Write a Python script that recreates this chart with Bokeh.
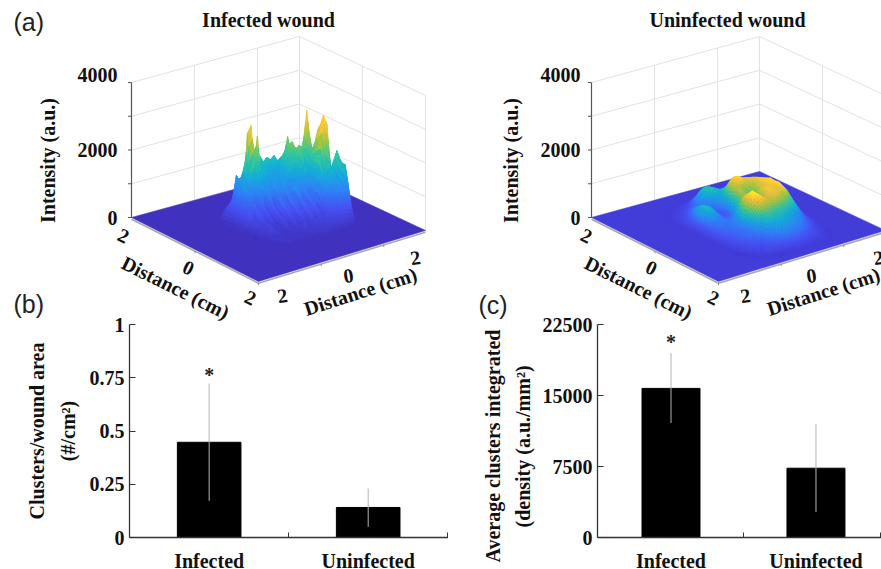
import math
import numpy as np
from bokeh.embed import file_html
from bokeh.resources import INLINE
from bokeh.plotting import figure
from bokeh.layouts import column, row
from bokeh.models import Range1d, FixedTicker, Title
from bokeh.core.properties import value

# ---------- DATA ----------
categories = ["Infected", "Uninfected"]
clusters_area = [0.447, 0.141]
clusters_area_low = [0.172, 0.05]
clusters_area_high = [0.723, 0.23]
clusters_density = [15750, 7320]
clusters_density_low = [12090, 2680]
clusters_density_high = [19470, 12020]
area_ticks = [0, 0.25, 0.5, 0.75, 1]
area_tick_labels = {0: "0", 0.25: "0.25", 0.5: "0.5", 0.75: "0.75", 1: "1"}
density_ticks = [0, 7500, 15000, 22500]
intensity_ticks = [0, 1000, 2000, 3000, 4000]
intensity_labels = [0, 2000, 4000]
distance_ticks = [-2, 0, 2]

# surface heights, intensity / 100; rows run from the back corner to the front
infected_x0, infected_dx = -1.24, 0.088
infected_y0, infected_dy = -0.36, 0.114
infected_z = [
 [0]*25,
 [0,0,0,0,0,0,0,1,1,2,2,2,3,3,2,2,2,2,1,0,0,0,0,0,0],
 [0,0,0,0,0,1,2,3,4,4,5,5,6,6,7,7,6,7,5,3,1,0,0,0,0],
 [0,0,1,2,3,4,5,6,7,8,8,9,9,10,10,10,10,10,8,6,3,1,0,0,0],
 [0,1,3,4,5,12,8,9,10,11,11,12,12,12,13,12,12,12,10,8,6,2,0,0,0],
 [0,2,4,5,8,11,12,11,13,12,13,14,12,14,14,13,13,13,12,10,8,5,1,0,0],
 [0,3,5,6,9,11,17,12,16,15,17,15,16,15,16,14,15,15,13,11,10,7,3,0,0],
 [0,3,5,7,10,11,21,13,13,12,11,12,11,12,12,14,15,21,14,13,13,11,6,1,0],
 [0,3,5,7,9,26,28,16,12,14,10,13,9,12,12,17,18,17,13,13,15,12,9,2,0],
 [0,4,5,7,9,14,16,25,10,15,9,12,8,11,13,17,20,19,11,17,18,16,12,3,0],
 [0,3,6,7,8,10,11,15,9,13,8,12,7,13,9,16,21,18,13,18,29,18,13,4,0],
 [0,3,5,6,8,5,10,7,11,6,10,13,6,11,14,15,18,20,12,18,20,17,14,5,0],
 [0,3,5,4,7,3,9,4,10,5,12,6,13,7,12,14,11,20,11,17,18,19,15,7,0],
 [0,3,5,3,6,2,6,3,7,3,9,4,11,5,10,6,12,16,9,16,21,22,15,9,0],
 [0,2,4,3,5,2,5,2,6,2,8,3,9,4,11,5,10,7,12,15,25,25,14,11,0],
 [0,2,3,3,4,2,4,1,5,2,7,2,8,3,10,4,9,5,11,16,27,26,12,13,0],
 [0,1,3,2,3,1,3,1,4,1,6,2,7,2,8,3,8,4,10,15,30,27,12,16,0],
 [0,1,2,2,3,1,2,1,4,1,5,1,6,1,7,3,7,3,11,12,22,14,12,19,0],
 [0,1,1,2,3,1,2,1,3,1,4,1,5,1,6,2,7,3,8,12,11,15,10,17,0],
 [0,0,1,3,2,1,1,1,2,1,3,1,4,1,5,1,5,2,6,9,8,11,9,16,0],
 [0,0,2,1,2,1,1,1,2,1,2,1,3,1,4,1,4,2,5,7,6,9,8,16,0],
 [0,0,1,1,1,1,1,1,1,2,1,3,1,3,2,4,2,4,5,6,6,8,6,11,0],
 [0,0,0,1,1,1,1,1,1,1,2,1,2,1,3,1,3,2,4,3,5,4,5,5,0],
 [0,0,0,1,1,0,1,1,1,1,1,2,1,2,1,2,2,3,2,3,3,3,2,1,0],
 [0,0,0,0,1,1,0,1,1,1,1,1,1,1,2,1,2,1,2,2,2,1,1,0,0],
 [0]*25,
]
# intensity / 10
uninfected_x0, uninfected_dx = -1.6, 0.134
uninfected_y0, uninfected_dy = -0.56, 0.1387
uninfected_z = [
 [0,0,0,0,0,0,0,0,1,2,3,3,4,4,4,4,3,2,0,0,0,0],
 [0,0,0,0,0,1,2,4,6,9,12,14,15,15,16,15,12,8,3,0,0,0],
 [0,0,0,0,2,4,7,11,18,26,36,40,34,26,24,22,20,15,8,3,0,0],
 [0,0,1,3,6,9,14,24,38,52,56,50,42,36,33,36,32,24,16,7,2,0],
 [0,2,4,8,11,15,23,34,48,56,60,54,46,42,46,52,48,35,24,13,4,0],
 [0,5,8,12,18,24,29,36,46,52,54,50,54,60,66,62,60,44,32,20,8,2],
 [0,7,11,18,28,33,30,30,36,42,44,52,70,88,84,80,68,56,42,28,13,3],
 [0,9,16,27,40,40,32,24,26,33,46,68,95,100,90,88,84,70,52,36,17,4],
 [0,12,22,38,52,46,38,24,20,28,50,80,98,104,92,94,92,84,64,44,22,6],
 [0,14,28,48,56,52,38,22,17,26,56,84,84,78,76,84,98,90,74,52,26,7],
 [0,15,30,46,54,44,32,20,18,32,66,88,76,74,78,88,102,98,84,58,28,8],
 [0,15,28,40,42,36,28,22,26,46,72,80,70,70,76,90,100,104,88,62,30,8],
 [0,15,26,32,32,30,26,26,38,64,84,76,68,76,92,96,98,102,90,62,30,8],
 [0,15,24,28,28,28,30,36,58,88,96,86,76,86,98,94,96,104,88,60,28,7],
 [0,14,22,26,26,28,32,46,76,104,110,94,82,92,100,96,92,98,80,54,24,6],
 [0,13,20,24,26,28,34,50,80,104,108,98,88,94,98,90,82,76,62,42,19,5],
 [0,11,18,22,24,27,32,48,72,90,98,90,84,84,80,74,66,58,46,30,14,4],
 [0,8,16,20,22,25,30,42,58,72,76,72,68,66,62,56,50,42,32,20,10,3],
 [0,6,14,20,24,27,30,38,46,56,60,60,56,54,50,44,38,32,24,16,8,2],
 [0,4,11,17,21,24,27,33,40,46,50,50,48,46,42,38,33,27,18,11,4,1],
 [0,3,9,14,18,21,24,28,34,38,41,41,40,38,35,31,27,20,13,7,2,0],
 [0,1,6,11,14,17,20,24,28,32,34,34,34,32,29,25,20,14,8,3,1,0],
 [0,0,3,7,10,13,16,19,22,25,27,27,27,25,22,18,14,9,4,1,0,0],
 [0,0,1,3,6,9,11,13,15,17,19,19,19,17,15,11,8,4,2,0,0,0],
 [0,0,0,0,0,1,2,3,4,5,5,6,6,5,4,3,2,1,0,0,0,0],
 [0]*22,
]

# ---------- STYLE ----------
SERIF = value("Liberation Serif")
SERIF_NAME = "Liberation Serif"
SANS = value("Liberation Sans")
INK = "#111111"
PARULA = [(0.2422,0.1504,0.6603),(0.2810,0.3228,0.9579),(0.1786,0.5289,0.9682),
          (0.0689,0.6948,0.8394),(0.2161,0.7843,0.5923),(0.6720,0.7793,0.2227),
          (0.9970,0.7659,0.2199),(0.9769,0.9839,0.0805)]

def colour(z, zmax, low):
    f = min(max(z / zmax, 0), 1) * (len(PARULA) - 1)
    k = min(int(f), len(PARULA) - 2)
    a, b = np.array(PARULA[k]) * 255, np.array(PARULA[k + 1]) * 255
    if k == 0:
        a = np.array(low)
    c = a + (b - a) * (f - k)
    return "#%02x%02x%02x" % tuple(int(round(v)) for v in c)

# floor corners of the 3-D box on the page
LC, FC, RC, BC = (131., 217.), (258., 281.), (425., 230.), (299., 171.)
ZPX = 135.0 / 4000.0
X_LO, X_SPAN, Y_LO, Y_SPAN = -2.0, 4.0, -2.0, 16.0 / 3.0

def proj(dx, dy, z, ox):
    s = (np.asarray(dx, float) - X_LO) / X_SPAN
    t = (np.asarray(dy, float) - Y_LO) / Y_SPAN
    px = LC[0]*(1-s)*(1-t) + FC[0]*s*(1-t) + RC[0]*s*t + BC[0]*(1-s)*t
    py = LC[1]*(1-s)*(1-t) + FC[1]*s*(1-t) + RC[1]*s*t + BC[1]*(1-s)*t
    return px + ox, py - np.asarray(z, float) * ZPX

TOP_H, SPLIT = 332, 316
top = figure(width=881, height=TOP_H, output_backend="svg", toolbar_location=None,
             x_range=Range1d(0, 881), y_range=Range1d(TOP_H, 0), min_border=0,
             outline_line_color=None, x_axis_location=None, y_axis_location=None)
top.grid.visible = False
top.background_fill_color = None
top.border_fill_color = None

def surface(p, grid, unit, x0, dx, y0, dy, ox, zmax, low):
    # box walls
    X_HI, Y_HI = X_LO + X_SPAN, Y_LO + Y_SPAN
    for z in intensity_ticks:
        a = proj([X_LO, X_LO, X_HI], [Y_LO, Y_HI, Y_HI], [z, z, z], ox)
        p.line(a[0], a[1], line_color="#e2e2e2", line_width=1)
    for d in distance_ticks[1:] + [Y_HI]:
        a = proj([X_LO, X_LO], [d, d], [0, 4000], ox)
        p.line(a[0], a[1], line_color="#e2e2e2", line_width=1)
    for d in distance_ticks[1:]:
        a = proj([d, d], [Y_HI, Y_HI], [0, 4000], ox)
        p.line(a[0], a[1], line_color="#e2e2e2", line_width=1)
    # axes
    a = proj([X_LO, X_LO], [Y_LO, Y_LO], [0, 4000], ox)
    p.line(a[0], a[1], line_color="#555555", line_width=1.2)
    for z in intensity_ticks:
        a = proj(X_LO, Y_LO, z, ox)
        p.line([a[0] - 3.5, a[0]], [a[1], a[1]], line_color="#555555", line_width=1)
    a = proj([X_LO, X_HI, X_HI], [Y_LO, Y_LO, Y_HI], [-50, -50, -50], ox)
    p.line(a[0], a[1], line_color="#a8a8a8", line_width=1.6)
    for d in distance_ticks[1:]:
        a = proj([X_HI, X_HI], [d, d], [-50, -110], ox)
        p.line(a[0], a[1], line_color="#888888", line_width=1)
    for d in distance_ticks[1:]:
        a = proj([d, d], [Y_LO, Y_LO], [-50, -110], ox)
        p.line(a[0], a[1], line_color="#888888", line_width=1)
    # floor
    a = proj([X_LO, X_HI, X_HI, X_LO], [Y_LO, Y_LO, Y_HI, Y_HI], [0]*4, ox)
    p.patch(a[0], a[1], fill_color=colour(0, zmax, low), line_color=colour(0, zmax, low), line_width=0.5)
    # surface, painted from the far corner to the near one
    z = np.array(grid, float) * unit
    n, m = z.shape
    sub = 3
    xs, ys, cs = [], [], []
    for i in range(n - 1):
        for j in range(m - 2, -1, -1):
            q = z[i:i+2, j:j+2]
            if q.max() == 0:
                continue
            for a_ in range(sub):
                for b_ in range(sub - 1, -1, -1):
                    u = np.array([a_, a_ + 1, a_ + 1, a_]) / sub
                    v = np.array([b_, b_, b_ + 1, b_ + 1]) / sub
                    zz = q[0,0]*(1-u)*(1-v) + q[1,0]*u*(1-v) + q[0,1]*(1-u)*v + q[1,1]*u*v
                    px, py = proj(x0 + (i + u) * dx, y0 + (j + v) * dy, zz, ox)
                    xs.append(list(px)); ys.append(list(py))
                    cs.append(colour(zz.mean(), zmax, low))
    p.patches(xs, ys, fill_color=cs, line_color=cs, line_width=0.4)

surface(top, infected_z, 100, infected_x0, infected_dx, infected_y0, infected_dy, 0, 3100, (64, 50, 190))
surface(top, uninfected_z, 10, uninfected_x0, uninfected_dx, uninfected_y0, uninfected_dy, 460, 1130, (66, 60, 216))

def t(p, x, y, s, size=20, angle=0.0, align="center", font=SERIF, style="bold", color=INK):
    p.text([x], [y], text=[s], text_font=font, text_font_size=f"{size}px", text_font_style=style,
           text_color=color, text_align=align, text_baseline="middle", angle=angle)

t(top, 13, 21, "(a)", 25, align="left", font=SANS, style="normal", color="#222222")
t(top, 13, 303, "(b)", 25, align="left", font=SANS, style="normal", color="#222222")
t(top, 478, 304, "(c)", 25, align="left", font=SANS, style="normal", color="#222222")
t(top, 268, 19, "Infected wound")
t(top, 727, 19, "Uninfected wound")
for off in (0, 463):
    for z in intensity_labels:
        px, py = proj(X_LO, Y_LO, z, 0)
        t(top, 117 + off, py - 8 if z == 4000 else py, str(z), align="right")
    t(top, 47 + off, 160, "Intensity (a.u.)", angle=math.pi / 2)
    t(top, 175 + off, 287, "Distance (cm)", angle=-0.46)
    t(top, 360 + off, 291, "Distance (cm)", angle=0.31)
    for (x, y, s, a) in [(123, 235, "2", -0.45), (188, 267, "0", -0.45), (250, 297, "2", -0.45),
                         (282, 295, "2", 0.15), (348, 275, "0", 0.15), (415, 257, "2", 0.15)]:
        t(top, x + off, y, s, angle=a)

def bars(width, left, top_pad, x_range, y_end, y_ticks, yvals, lo, hi, overrides, star_y):
    p = figure(width=width, height=258, output_backend="svg", toolbar_location=None,
               x_range=Range1d(*x_range), y_range=Range1d(0, y_end),
               min_border_left=left, min_border_right=0, min_border_top=top_pad, min_border_bottom=32,
               outline_line_color=None)
    p.grid.visible = False
    p.background_fill_color = None
    p.border_fill_color = None
    pos = [1, 2]
    p.vbar(x=pos, top=yvals, width=0.4, fill_color="#000000", line_color="#000000")
    p.segment(x0=pos, x1=pos, y0=lo, y1=hi, line_color="#b4b4b4", line_width=1)
    p.text([1], [star_y], text=["*"], text_font=SERIF, text_font_size="20px", text_font_style="bold",
           text_color="#222222", text_align="center", text_baseline="middle")
    ax = p.xaxis[0]
    ax.ticker = FixedTicker(ticks=pos, minor_ticks=[1.5, x_range[1] - 0.005])
    ax.major_label_overrides = {1: categories[0], 2: categories[1]}
    ax.major_tick_line_color = None
    ax.minor_tick_in, ax.minor_tick_out = 5, 0
    ax.minor_tick_line_color = "#333333"
    ax.axis_line_color = "#333333"
    ax.axis_line_width = 1.3
    ax.major_label_standoff = 6
    ay = p.yaxis[0]
    ay.ticker = FixedTicker(ticks=y_ticks)
    ay.minor_tick_line_color = None
    ay.major_tick_in, ay.major_tick_out = 6, 0
    ay.major_tick_line_color = "#333333"
    ay.axis_line_color = "#333333"
    ay.axis_line_width = 1.3
    ay.major_label_standoff = 5
    if overrides:
        ay.major_label_overrides = overrides
    for a in (ax, ay):
        a.major_label_text_font = SERIF_NAME
        a.major_label_text_font_size = "20px"
        a.major_label_text_font_style = "bold"
        a.major_label_text_color = INK
    ax.major_label_text_line_height = 0.8
    return p

pb = bars(448, 129, 8, (0.499, 2.505), 1, area_ticks, clusters_area, clusters_area_low, clusters_area_high,
          area_tick_labels, 0.765)
pc = bars(433, 149, 8, (0.493, 2.452), 22500, density_ticks, clusters_density, clusters_density_low,
          clusters_density_high, None, 20700)

def lab(p, s, align, offset, standoff):
    p.add_layout(Title(text=s, align=align, offset=offset, standoff=standoff, text_font=SERIF_NAME,
                       text_font_size="20px", text_font_style="bold", text_color=INK,
                       text_line_height=0.8), "left")

lab(pb, "(#/cm²)", "center", 0, 15)
lab(pb, "Clusters/wound area", "center", 0, 0)
lab(pc, "(density (a.u./mm²)", "left", 10, 12)
lab(pc, "Average clusters integrated", "left", -25, 0)

lower = row(pb, pc, spacing=0, margin=(SPLIT - TOP_H, 0, -5, 0))
page = column(top, lower, spacing=0)
open("out.html", "w").write(file_html(page, INLINE))
